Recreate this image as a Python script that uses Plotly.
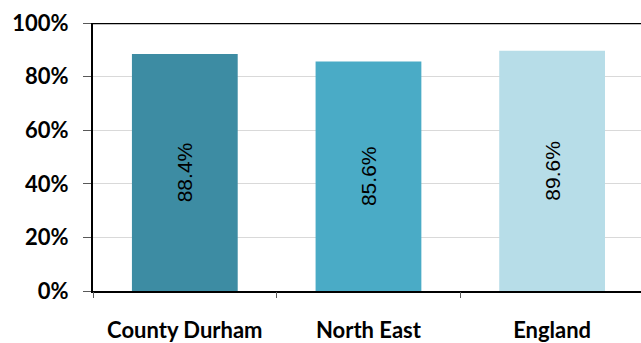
import plotly.graph_objects as go

areas = ["County Durham", "North East", "England"]
shares = [88.4, 85.6, 89.6]
bar_colors = ["#3D8CA3", "#4AABC6", "#B7DDE8"]
y_ticks = [0, 20, 40, 60, 80, 100]

x_range = [-0.5, 2.484]
axis_font = "Lato, 'Open Sans', sans-serif"
value_font = "'Liberation Sans', Arial, sans-serif"

fig = go.Figure()
fig.add_trace(go.Bar(
    x=areas,
    y=shares,
    marker=dict(color=bar_colors, line=dict(width=0)),
    width=0.576,
    text=[f"{v:.1f}%" for v in shares],
    textposition="inside",
    insidetextanchor="middle",
    textangle=-90,
    textfont=dict(family=value_font, size=21, color="black"),
    showlegend=False,
    hoverinfo="skip",
))

# invisible trace that carries the category-boundary ticks
fig.add_trace(go.Scatter(x=[0], y=[0], xaxis="x2", mode="markers",
                         marker=dict(opacity=0), showlegend=False, hoverinfo="skip"))

fig.update_layout(
    width=641,
    height=343,
    margin=dict(l=93, r=0, t=23, b=52),
    paper_bgcolor="white",
    plot_bgcolor="white",
    xaxis=dict(
        type="category",
        range=x_range,
        automargin=False,
        showgrid=False,
        ticks="",
        showline=True,
        linecolor="black",
        linewidth=2,
        tickfont=dict(family=axis_font, size=22, color="black", weight="bold"),
        ticklabelstandoff=19,
    ),
    xaxis2=dict(
        overlaying="x",
        anchor="y",
        side="bottom",
        range=x_range,
        automargin=False,
        tickvals=[-0.5, 0.5, 1.5, 2.5],
        ticks="outside",
        ticklen=6,
        tickwidth=1,
        tickcolor="#595959",
        showticklabels=False,
        showgrid=False,
        zeroline=False,
        showline=False,
    ),
    yaxis=dict(
        range=[0, 100],
        automargin=False,
        tickvals=y_ticks,
        ticktext=[f"{v}%" for v in y_ticks],
        ticks="outside",
        ticklen=8,
        tickwidth=1,
        tickcolor="#595959",
        showgrid=True,
        gridcolor="#D9D9D9",
        gridwidth=1,
        zeroline=False,
        showline=True,
        linecolor="black",
        linewidth=2,
        tickfont=dict(family=axis_font, size=22, color="black", weight="bold"),
        ticklabelstandoff=10,
    ),
    shapes=[dict(type="line", xref="paper", yref="y", x0=0, x1=1, y0=100, y1=100,
                 line=dict(color="black", width=2.5))],
)

fig.write_html("out.html")
